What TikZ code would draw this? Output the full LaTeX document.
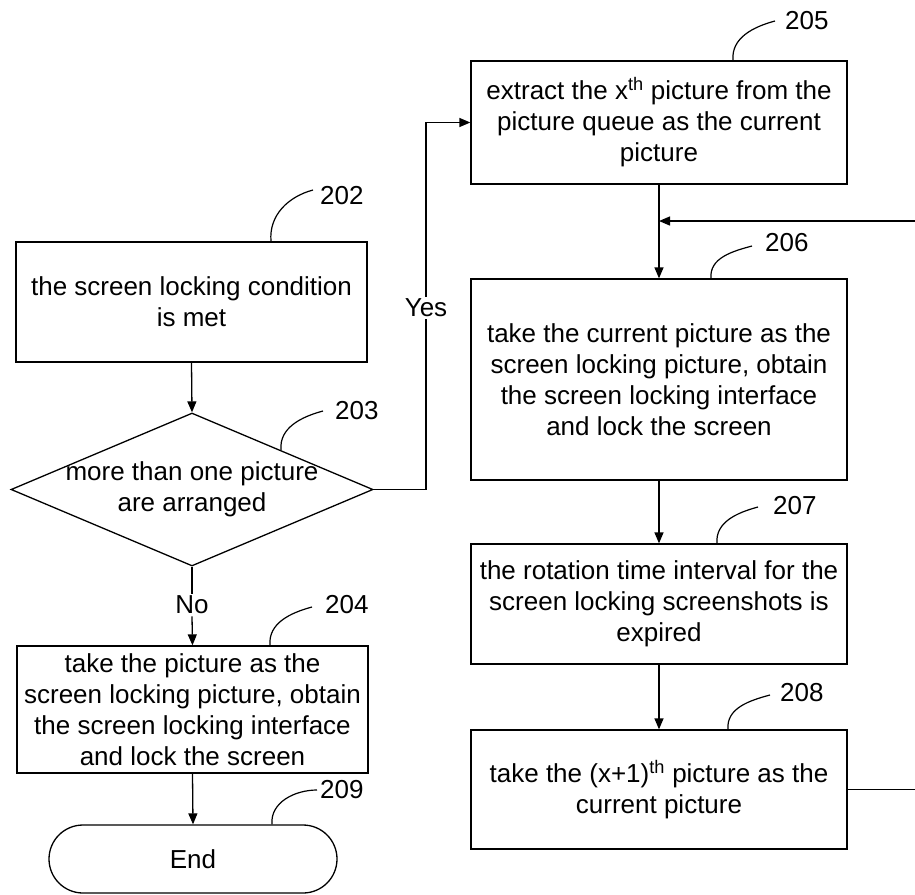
\documentclass[tikz,border=0pt]{standalone}
\usepackage{fontspec}
\setmainfont{Liberation Sans}
\usetikzlibrary{shapes.geometric,shapes.misc,arrows.meta}
\begin{document}
\begin{tikzpicture}[x=1pt,y=-1pt,
  every node/.style={font=\fontsize{26}{31}\selectfont},
  box/.style={draw,line width=1.3pt,rectangle,inner sep=0pt,align=center},
  num/.style={inner sep=0pt,anchor=west},
  conn/.style={line width=1.3pt},
  arr/.style={line width=1.3pt,-{Triangle[length=11pt,width=9pt]}},
  lead/.style={line width=1.2pt}]
\useasboundingbox (0,0) rectangle (915,894);
% left column
\node[box,minimum width=351pt,minimum height=120pt] (b202) at (191.5,302) {the screen locking condition\\is met};
\node[draw,line width=1.3pt,diamond,inner sep=0pt,minimum width=362pt,minimum height=153pt] (d203) at (192,489.5) {};
\node[align=center,inner sep=0pt] (t203) at (d203.center) {more than one picture\\are arranged};
\node[fill=white,inner sep=2pt] (no) at (192,605) {No};
\node[box,minimum width=351pt,minimum height=127pt] (b204) at (192.5,709.5) {take the picture as the\\screen locking picture, obtain\\the screen locking interface\\and lock the screen};
\node[draw,line width=1.3pt,rounded rectangle,inner sep=0pt,minimum width=288pt,minimum height=68pt] (end) at (193,859) {End};
% right column
\node[box,minimum width=376pt,minimum height=123pt] (b205) at (659,122.5) {extract the x\textsuperscript{th} picture from the\\picture queue as the current\\picture};
\node[box,minimum width=376pt,minimum height=201pt] (b206) at (659,379.5) {take the current picture as the\\screen locking picture, obtain\\the screen locking interface\\and lock the screen};
\node[box,minimum width=376pt,minimum height=120pt] (b207) at (659,604) {the rotation time interval for the\\screen locking screenshots is\\expired};
\node[box,minimum width=376pt,minimum height=119pt] (b208) at (659,789.5) {take the (x+1)\textsuperscript{th} picture as the\\current picture};
% connectors
\coordinate (yc) at (426,489.5);
\coordinate (yt) at (426,122.5);
\coordinate (j) at (659,221);
\coordinate (r1) at (918,789.5);
\coordinate (r2) at (918,221);
\draw[arr] (b202.south) -- (d203.north);
\draw[conn] (d203.east) -- (yc);
\draw[arr] (yc) -- (yt) -- (b205.west);
\node[fill=white,inner sep=2pt] (yes) at (426,308) {Yes};
\draw[conn] (d203.south) -- (no.north);
\draw[arr] (no.south) -- (b204.north);
\draw[arr] (b204.south) -- (end.north);
\draw[arr] (b205.south) -- (b206.north);
\draw[arr] (b206.south) -- (b207.north);
\draw[arr] (b207.south) -- (b208.north);
\draw[conn] (b208.east) -- (r1) -- (r2);
\draw[arr] (r2) -- (j);
% reference numerals
\node[num] (n202) at (320,196) {202};
\node[num] (n203) at (335,411) {203};
\node[num] (n204) at (325,605) {204};
\node[num] (n205) at (785,21) {205};
\node[num] (n206) at (765,243) {206};
\node[num] (n207) at (773,506) {207};
\node[num] (n208) at (780,693) {208};
\node[num] (n209) at (320,790) {209};
\draw[lead] ([xshift=79.5pt]b202.north) to[out=95,in=195] ([xshift=-7pt,yshift=6pt]n202.west);
\draw[lead] (281,450) to[out=95,in=195] ([xshift=-12pt]n203.west);
\draw[lead] ([xshift=77.5pt]b204.north) to[out=95,in=195] ([xshift=-13pt,yshift=-2pt]n204.west);
\draw[lead] ([xshift=74pt]b205.north) to[out=95,in=195] ([xshift=-10pt]n205.west);
\draw[lead] ([xshift=52pt]b206.north) to[out=95,in=195] ([xshift=-13pt,yshift=-3pt]n206.west);
\draw[lead] ([xshift=58pt]b207.north) to[out=95,in=195] ([xshift=-15pt,yshift=-1pt]n207.west);
\draw[lead] ([xshift=69pt]b208.north) to[out=95,in=195] ([xshift=-10pt,yshift=-2pt]n208.west);
\draw[lead] ([xshift=79pt]end.north) to[out=95,in=180] ([xshift=-3pt]n209.west);
\end{tikzpicture}
\end{document}
